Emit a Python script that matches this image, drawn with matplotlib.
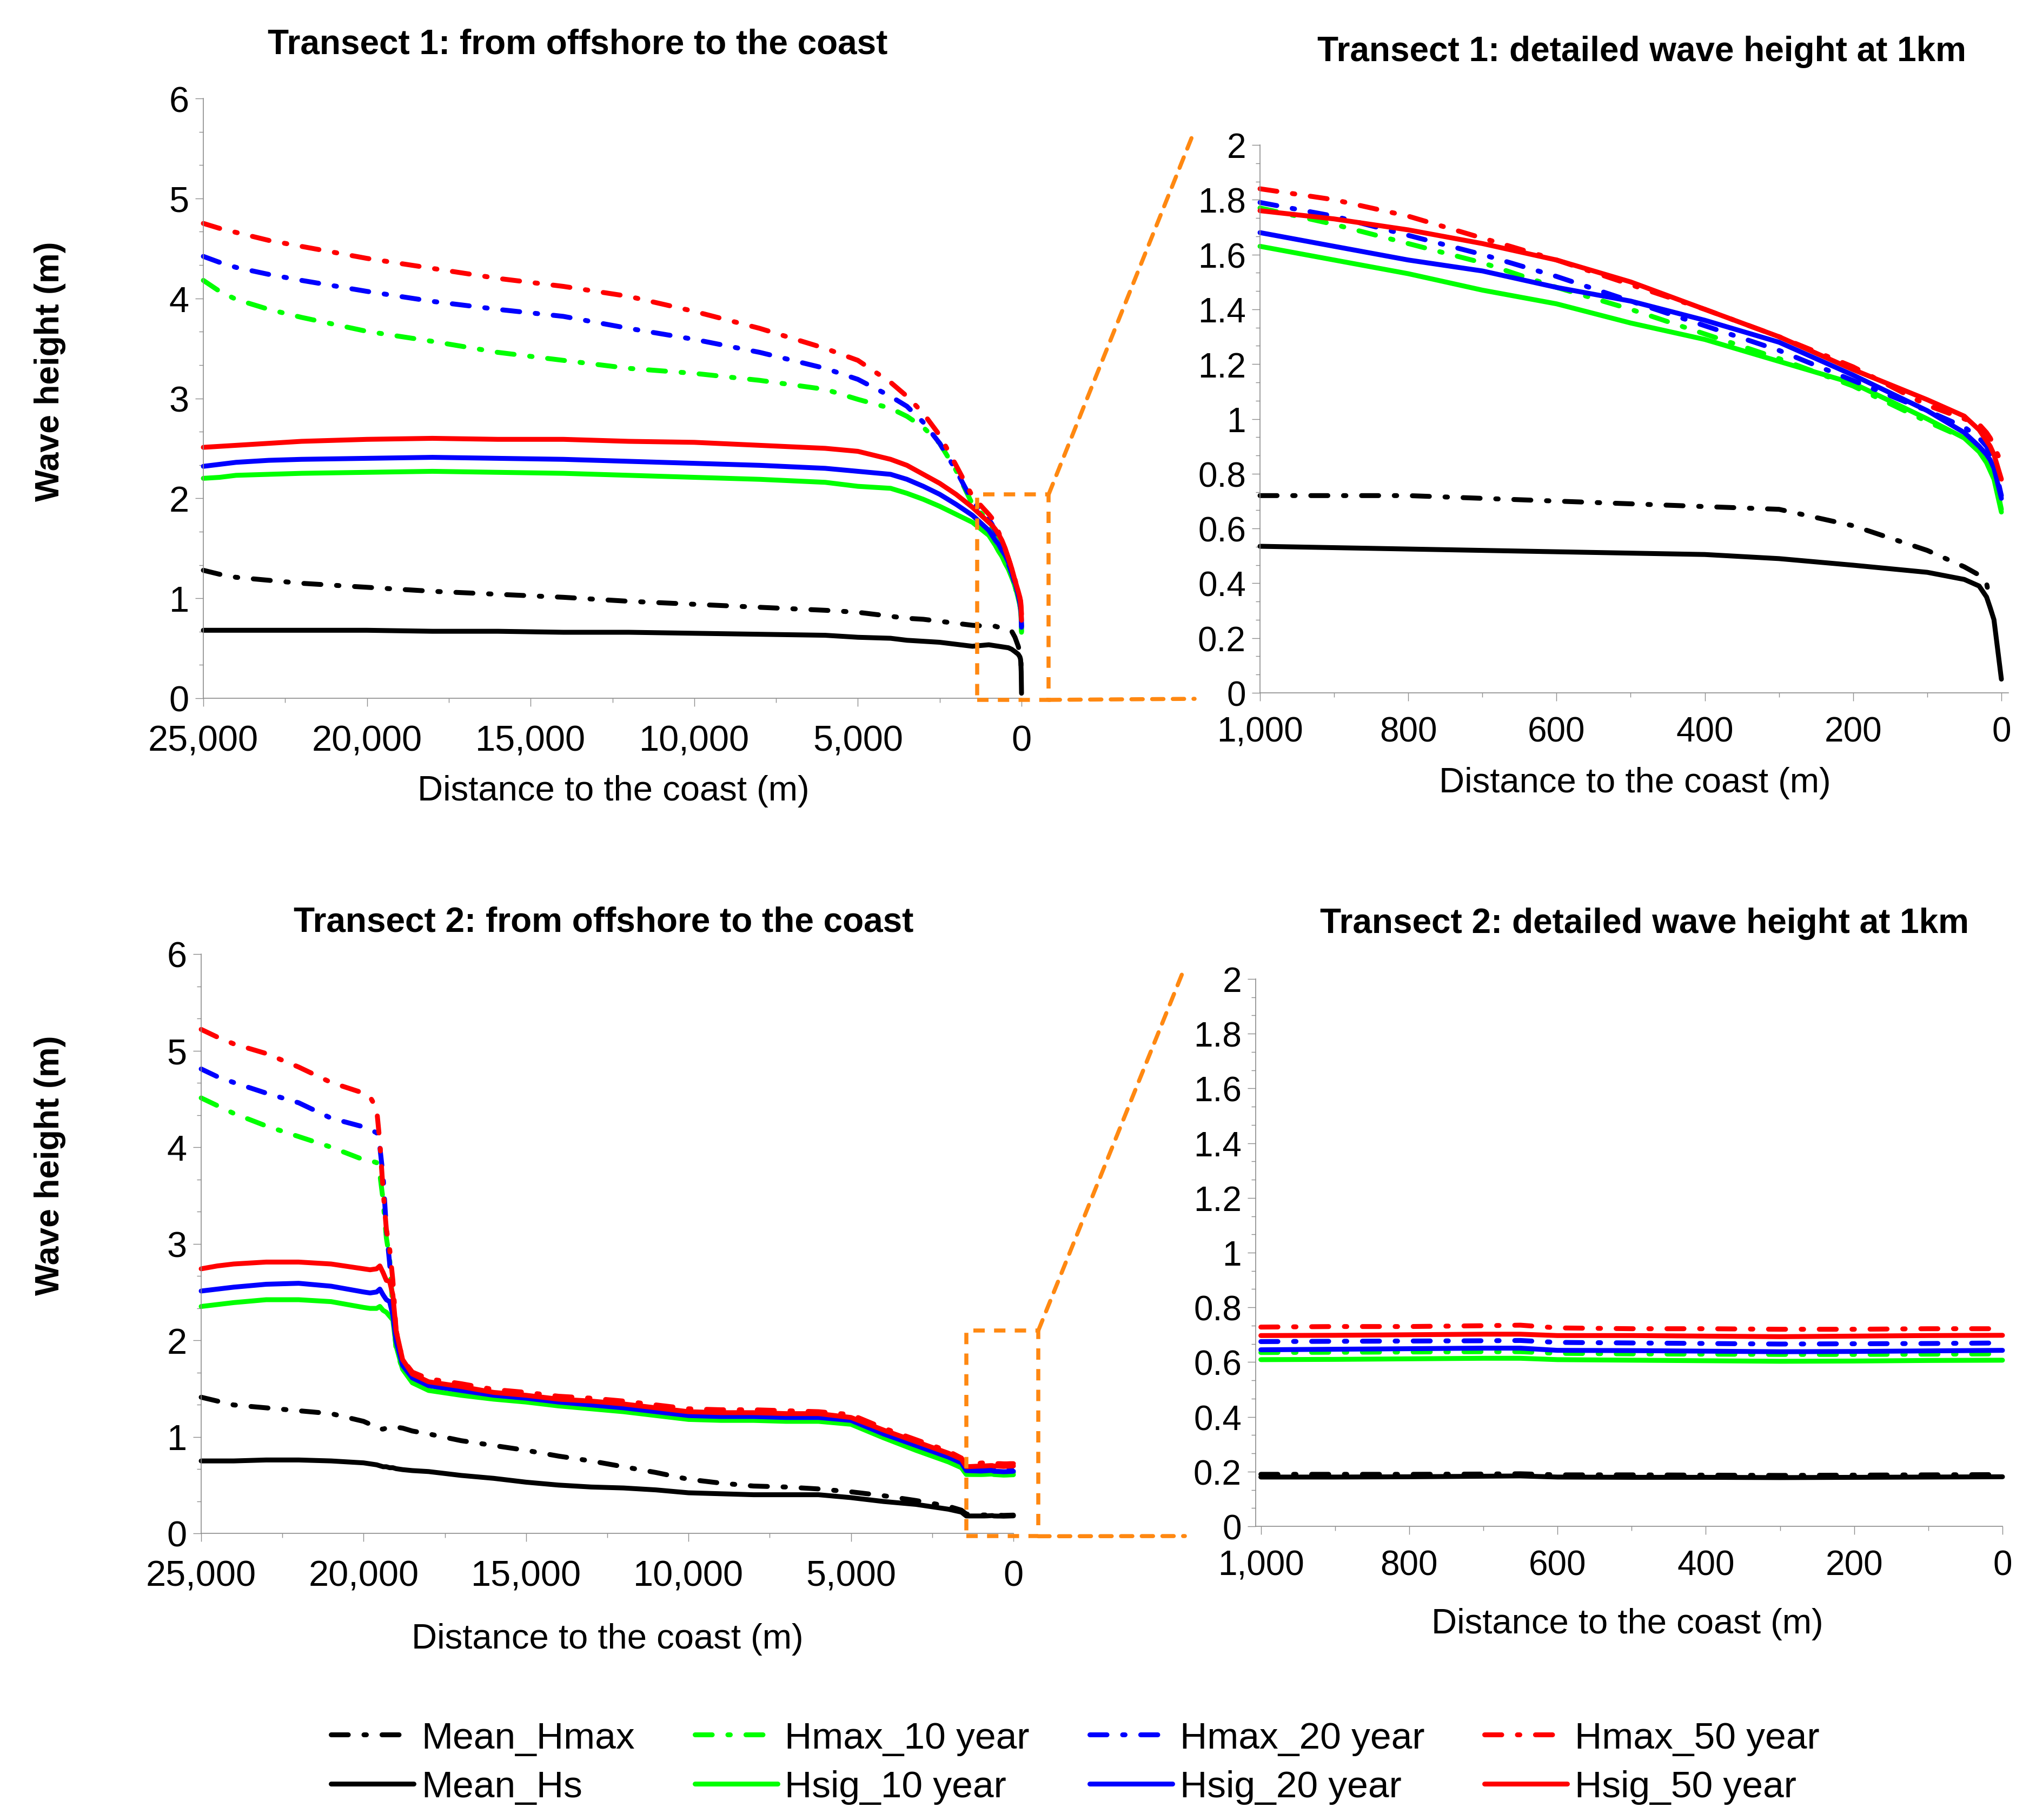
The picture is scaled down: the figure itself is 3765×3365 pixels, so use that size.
import numpy as np
import matplotlib
matplotlib.use('Agg')
import matplotlib.pyplot as plt
from matplotlib.ticker import MultipleLocator, FuncFormatter
from matplotlib.patches import Rectangle, ConnectionPatch

plt.rcParams['font.family'] = ['Liberation Sans', 'DejaVu Sans']

W, H = 3766, 3366

# ---- Transect 1, offshore part (m, wave height in m)
t1_x_off = [25000, 24500, 24000, 23000, 22000, 20000, 18000, 16000, 14000, 12000,
            10000, 8000, 6000, 5000, 4000, 3500, 3000, 2500, 2000, 1500]
t1_hmax50_off = [4.75, 4.70, 4.66, 4.58, 4.52, 4.40, 4.30, 4.20, 4.12, 4.02,
                 3.87, 3.70, 3.50, 3.38, 3.16, 3.02, 2.85, 2.63, 2.33, 2.02]
t1_hmax20_off = [4.42, 4.36, 4.31, 4.24, 4.18, 4.07, 3.97, 3.89, 3.82, 3.70,
                 3.59, 3.46, 3.30, 3.19, 3.02, 2.92, 2.76, 2.55, 2.28, 1.97]
t1_hmax10_off = [4.18, 4.07, 3.99, 3.89, 3.81, 3.67, 3.57, 3.46, 3.38, 3.30,
                 3.25, 3.18, 3.09, 2.99, 2.90, 2.82, 2.71, 2.55, 2.28, 1.94]
t1_hsig50_off = [2.51, 2.52, 2.53, 2.55, 2.57, 2.59, 2.60, 2.59, 2.59, 2.57,
                 2.56, 2.53, 2.50, 2.47, 2.39, 2.33, 2.24, 2.15, 2.04, 1.91]
t1_hsig20_off = [2.32, 2.34, 2.36, 2.38, 2.39, 2.40, 2.41, 2.40, 2.39, 2.37,
                 2.35, 2.33, 2.30, 2.27, 2.24, 2.19, 2.12, 2.04, 1.94, 1.83]
t1_hsig10_off = [2.20, 2.21, 2.23, 2.24, 2.25, 2.26, 2.27, 2.26, 2.25, 2.23,
                 2.21, 2.19, 2.16, 2.12, 2.10, 2.05, 1.99, 1.92, 1.84, 1.76]
t1_meanhmax_off = [1.28, 1.24, 1.21, 1.18, 1.15, 1.11, 1.07, 1.04, 1.01, 0.97,
                   0.94, 0.91, 0.88, 0.86, 0.82, 0.80, 0.79, 0.77, 0.75, 0.73]
t1_meanhs_off = [0.68, 0.68, 0.68, 0.68, 0.68, 0.68, 0.67, 0.67, 0.66, 0.66,
                 0.65, 0.64, 0.63, 0.61, 0.60, 0.58, 0.57, 0.56, 0.54, 0.52]

# ---- Transect 1, last 1 km
t1_x_det = [1000, 900, 800, 700, 600, 500, 400, 300, 200, 100, 50, 30, 20, 15, 10, 0]
t1_hmax50_det = [1.84, 1.80, 1.74, 1.66, 1.58, 1.49, 1.40, 1.30, 1.19, 1.05, 1.00, 0.98, 0.95, 0.93, 0.90, 0.84]
t1_hsig50_det = [1.76, 1.73, 1.69, 1.64, 1.58, 1.50, 1.40, 1.30, 1.18, 1.07, 1.01, 0.96, 0.92, 0.90, 0.87, 0.78]
t1_hmax20_det = [1.79, 1.74, 1.67, 1.60, 1.52, 1.43, 1.34, 1.25, 1.14, 1.03, 0.97, 0.93, 0.90, 0.87, 0.84, 0.72]
t1_hsig20_det = [1.68, 1.63, 1.58, 1.54, 1.48, 1.43, 1.36, 1.28, 1.16, 1.03, 0.95, 0.90, 0.87, 0.85, 0.82, 0.71]
t1_hmax10_det = [1.77, 1.71, 1.64, 1.57, 1.48, 1.40, 1.31, 1.22, 1.12, 0.99, 0.93, 0.89, 0.86, 0.83, 0.80, 0.67]
t1_hsig10_det = [1.63, 1.58, 1.53, 1.47, 1.42, 1.35, 1.29, 1.21, 1.13, 1.00, 0.93, 0.88, 0.84, 0.81, 0.78, 0.66]
t1_meanhmax_det = [0.72, 0.72, 0.72, 0.71, 0.70, 0.69, 0.68, 0.67, 0.61, 0.52, 0.46, 0.43, 0.40, 0.33, np.nan, np.nan]
t1_meanhs_det = [0.535, 0.53, 0.525, 0.52, 0.515, 0.51, 0.505, 0.49, 0.466, 0.44, 0.414, 0.39, 0.35, 0.31, 0.267, 0.05]

# ---- Transect 2, offshore part
t2_x_off = [25000, 24500, 24000, 23000, 22000, 21000, 20000, 19800, 19600, 19500,
            19400, 19300, 19200, 19100, 19000, 18800, 18500, 18000, 17000, 16000,
            15000, 14000, 13000, 12000, 11000, 10000, 9000, 8000, 7000, 6000,
            5000, 4000, 3000, 2000, 1600, 1450]
t2_hmax50_off = [5.22, 5.14, 5.07, 4.97, 4.83, 4.67, 4.56, 4.52, 4.40, 4.05,
                 3.55, 3.15, 2.95, 2.62, 2.10, 1.80, 1.67, 1.60, 1.55, 1.49,
                 1.46, 1.42, 1.40, 1.37, 1.33, 1.29, 1.28, 1.28, 1.27, 1.26,
                 1.23, 1.09, 0.97, 0.85, 0.78, 0.70]
t2_hsig50_off = [2.74, 2.77, 2.79, 2.81, 2.81, 2.79, 2.74, 2.73, 2.74, 2.77,
                 2.70, 2.62, 2.61, 2.47, 2.10, 1.80, 1.65, 1.57, 1.52, 1.46,
                 1.43, 1.39, 1.37, 1.34, 1.30, 1.26, 1.25, 1.25, 1.24, 1.24,
                 1.20, 1.07, 0.95, 0.83, 0.77, 0.69]
t2_hmax20_off = [4.81, 4.73, 4.67, 4.56, 4.46, 4.30, 4.21, 4.18, 4.15, 4.00,
                 3.70, 3.15, 2.80, 2.40, 2.00, 1.76, 1.63, 1.56, 1.50, 1.45,
                 1.42, 1.38, 1.36, 1.33, 1.29, 1.25, 1.24, 1.24, 1.23, 1.22,
                 1.19, 1.05, 0.93, 0.81, 0.75, 0.67]
t2_hsig20_off = [2.51, 2.53, 2.55, 2.58, 2.59, 2.56, 2.50, 2.49, 2.50, 2.53,
                 2.47, 2.42, 2.40, 2.26, 1.99, 1.74, 1.61, 1.53, 1.48, 1.43,
                 1.40, 1.36, 1.33, 1.30, 1.26, 1.22, 1.21, 1.21, 1.20, 1.20,
                 1.17, 1.03, 0.91, 0.79, 0.73, 0.65]
t2_hmax10_off = [4.51, 4.43, 4.35, 4.22, 4.11, 4.00, 3.87, 3.86, 3.84, 3.72,
                 3.45, 3.06, 2.85, 2.32, 1.90, 1.70, 1.58, 1.50, 1.45, 1.41,
                 1.38, 1.34, 1.31, 1.28, 1.24, 1.20, 1.19, 1.19, 1.18, 1.18,
                 1.15, 1.01, 0.88, 0.76, 0.70, 0.63]
t2_hsig10_off = [2.35, 2.37, 2.39, 2.42, 2.42, 2.40, 2.34, 2.33, 2.33, 2.35,
                 2.31, 2.29, 2.25, 2.21, 1.94, 1.70, 1.56, 1.48, 1.43, 1.39,
                 1.36, 1.32, 1.29, 1.26, 1.22, 1.18, 1.17, 1.17, 1.16, 1.16,
                 1.13, 0.99, 0.86, 0.74, 0.68, 0.61]
t2_meanhmax_off = [1.41, 1.37, 1.33, 1.30, 1.27, 1.24, 1.16, 1.13, 1.10, 1.08,
                   1.08, 1.09, 1.10, 1.10, 1.10, 1.09, 1.06, 1.03, 0.96, 0.91,
                   0.86, 0.80, 0.75, 0.69, 0.63, 0.56, 0.52, 0.49, 0.48, 0.46,
                   0.43, 0.39, 0.34, 0.28, 0.24, 0.20]
t2_meanhs_off = [0.75, 0.75, 0.75, 0.76, 0.76, 0.75, 0.73, 0.72, 0.71, 0.70,
                 0.69, 0.69, 0.68, 0.68, 0.67, 0.66, 0.65, 0.64, 0.60, 0.57,
                 0.53, 0.50, 0.48, 0.47, 0.45, 0.42, 0.41, 0.40, 0.40, 0.40,
                 0.37, 0.33, 0.30, 0.25, 0.22, 0.18]

# ---- Transect 2, last 1 km
t2_x_det = [1000, 900, 800, 700, 650, 600, 500, 400, 300, 200, 100, 0]
t2_hmax50_det = [0.728, 0.730, 0.730, 0.733, 0.735, 0.725, 0.722, 0.722, 0.720, 0.720, 0.722, 0.722]
t2_hsig50_det = [0.697, 0.698, 0.700, 0.702, 0.702, 0.697, 0.697, 0.695, 0.693, 0.695, 0.697, 0.698]
t2_hmax20_det = [0.675, 0.676, 0.677, 0.678, 0.679, 0.672, 0.670, 0.668, 0.666, 0.667, 0.668, 0.670]
t2_hsig20_det = [0.645, 0.647, 0.649, 0.651, 0.651, 0.643, 0.642, 0.640, 0.638, 0.639, 0.641, 0.643]
t2_hmax10_det = [0.635, 0.636, 0.637, 0.638, 0.638, 0.632, 0.630, 0.629, 0.628, 0.628, 0.629, 0.630]
t2_hsig10_det = [0.609, 0.610, 0.612, 0.614, 0.614, 0.609, 0.607, 0.605, 0.603, 0.604, 0.606, 0.607]
t2_meanhmax_det = [0.190, 0.190, 0.190, 0.191, 0.192, 0.188, 0.188, 0.187, 0.186, 0.187, 0.188, 0.189]
t2_meanhs_det = [0.180, 0.180, 0.181, 0.183, 0.184, 0.180, 0.179, 0.179, 0.178, 0.179, 0.180, 0.181]

labels = ['Mean_Hmax', 'Mean_Hs', 'Hmax_10 year', 'Hsig_10 year',
          'Hmax_20 year', 'Hsig_20 year', 'Hmax_50 year', 'Hsig_50 year']
colors = ['black', 'black', '#00FF00', '#00FF00', '#0000FF', '#0000FF', '#FF0000', '#FF0000']
is_max = [True, False, True, False, True, False, True, False]

t1_off = [t1_meanhmax_off, t1_meanhs_off, t1_hmax10_off, t1_hsig10_off,
          t1_hmax20_off, t1_hsig20_off, t1_hmax50_off, t1_hsig50_off]
t1_det = [t1_meanhmax_det, t1_meanhs_det, t1_hmax10_det, t1_hsig10_det,
          t1_hmax20_det, t1_hsig20_det, t1_hmax50_det, t1_hsig50_det]
t2_off = [t2_meanhmax_off, t2_meanhs_off, t2_hmax10_off, t2_hsig10_off,
          t2_hmax20_off, t2_hsig20_off, t2_hmax50_off, t2_hsig50_off]
t2_det = [t2_meanhmax_det, t2_meanhs_det, t2_hmax10_det, t2_hsig10_det,
          t2_hmax20_det, t2_hsig20_det, t2_hmax50_det, t2_hsig50_det]

LW = 6.5
DASHDOT = (3.5, 3.2, 0.5, 3.2)
ORANGE = '#FF8811'
GREY = '#8C8C8C'


def fx(px):
    return px / W


def fy(px):
    return 1 - px / H


def box(l, r, t, b):
    return [fx(l), fy(b), fx(r) - fx(l), fy(t) - fy(b)]


def draw_lines(ax, x, series):
    handles = []
    for vals, c, m, lab in zip(series, colors, is_max, labels):
        if m:
            h, = ax.plot(x, vals, color=c, lw=LW, dashes=DASHDOT,
                         dash_capstyle='round', label=lab, clip_on=False)
        else:
            h, = ax.plot(x, vals, color=c, lw=LW, solid_capstyle='round',
                         label=lab, clip_on=False)
        handles.append(h)
    return handles


def style_axis(ax, xmaj, xmin, ymaj, ymin, fs, xpad):
    for s in ['top', 'right']:
        ax.spines[s].set_visible(False)
    for s in ['left', 'bottom']:
        ax.spines[s].set_color(GREY)
        ax.spines[s].set_linewidth(1.2)
    ax.xaxis.set_major_locator(MultipleLocator(xmaj))
    ax.xaxis.set_minor_locator(MultipleLocator(xmin))
    ax.yaxis.set_major_locator(MultipleLocator(ymaj))
    ax.yaxis.set_minor_locator(MultipleLocator(ymin))
    ax.xaxis.set_major_formatter(FuncFormatter(lambda v, p: f'{v:,.0f}'))
    ax.yaxis.set_major_formatter(FuncFormatter(lambda v, p: f'{round(v, 3):g}'))
    ax.tick_params(which='major', direction='out', length=10.8, width=1.0,
                   color=GREY, labelsize=fs)
    ax.tick_params(which='minor', direction='out', length=5.8, width=1.0, color=GREY)
    ax.tick_params(axis='x', which='major', pad=xpad)
    ax.tick_params(axis='y', which='major', pad=8)


fig = plt.figure(figsize=(W / 100, H / 100), dpi=100)

ax1 = fig.add_axes(box(376, 1889, 183, 1292))
ax2 = fig.add_axes(box(2330, 3714, 269, 1282))
ax3 = fig.add_axes(box(372, 1874, 1765, 2836))
ax4 = fig.add_axes(box(2322, 3703, 1811, 2823))

handles = draw_lines(ax1, t1_x_off + t1_x_det, [a + b for a, b in zip(t1_off, t1_det)])
draw_lines(ax2, t1_x_det, t1_det)
draw_lines(ax3, t2_x_off + t2_x_det, [a + b for a, b in zip(t2_off, t2_det)])
draw_lines(ax4, t2_x_det, t2_det)

ax1.set_xlim(25000, 0)
ax1.set_ylim(0, 6)
ax2.set_xlim(1000, -9.5)
ax2.set_ylim(0, 2)
ax3.set_xlim(25000, 0)
ax3.set_ylim(0, 6)
ax4.set_xlim(1007, 0)
ax4.set_ylim(0, 2)

style_axis(ax1, 5000, 2500, 1, 1 / 3, 48, 24)
style_axis(ax3, 5000, 2500, 1, 1 / 3, 48, 24)
style_axis(ax2, 200, 100, 0.2, 0.2 / 3, 46, 20)
style_axis(ax4, 200, 100, 0.2, 0.2 / 3, 46, 20)

# titles and axis labels
fig.text(fx(1068), fy(82), 'Transect 1: from offshore to the coast', fontsize=46,
         fontweight='bold', ha='center', va='center')
fig.text(fx(3036), fy(96), 'Transect 1: detailed wave height at 1km', fontsize=46,
         fontweight='bold', ha='center', va='center')
fig.text(fx(1116), fy(1706), 'Transect 2: from offshore to the coast', fontsize=46,
         fontweight='bold', ha='center', va='center')
fig.text(fx(3041), fy(1708), 'Transect 2: detailed wave height at 1km', fontsize=46,
         fontweight='bold', ha='center', va='center')

for px, py in [(1134, 1463), (3023, 1448), (1123, 3031), (3009, 3003)]:
    fig.text(fx(px), fy(py), 'Distance to the coast (m)', fontsize=47,
             ha='center', va='center')
for py in [687, 2155]:
    fig.text(fx(93), fy(py), 'Wave height (m)', fontsize=45, fontweight='bold',
             rotation=90, ha='center', va='center')

# orange zoom boxes with connector lines
zoom_specs = [
    (ax1, ax2, 1350, -830, 2.04, -0.016, (-0.0874, 1.0266), (-0.0874, -0.0109)),
    (ax3, ax4, 1450, -766, 2.10, -0.03, (-0.0948, 1.0217), (-0.0948, -0.0178)),
]
for axa, axb, xl, xr, yt, yb, top_end, bot_end in zoom_specs:
    rect = Rectangle((xl, yb), xr - xl, yt - yb, fill=False, edgecolor=ORANGE,
                     lw=5.4, linestyle=(0, (2.8, 2.3)), clip_on=False, zorder=5)
    axa.add_patch(rect)
    for (xa, ya), end in [((xr, yt), top_end), ((xr, yb), bot_end)]:
        con = ConnectionPatch(xyA=(xa, ya), coordsA=axa.transData,
                              xyB=end, coordsB=axb.transAxes,
                              color=ORANGE, lw=5.4, linestyle=(0, (2.8, 2.3)))
        fig.add_artist(con)

fig.legend(handles, labels, ncol=4, loc='center', bbox_to_anchor=(0.528, 0.0315),
           frameon=False, fontsize=50, handlelength=2.2, handletextpad=0.2,
           columnspacing=1.6, labelspacing=0.38)

fig.savefig('out.png', dpi=100, facecolor='white')
